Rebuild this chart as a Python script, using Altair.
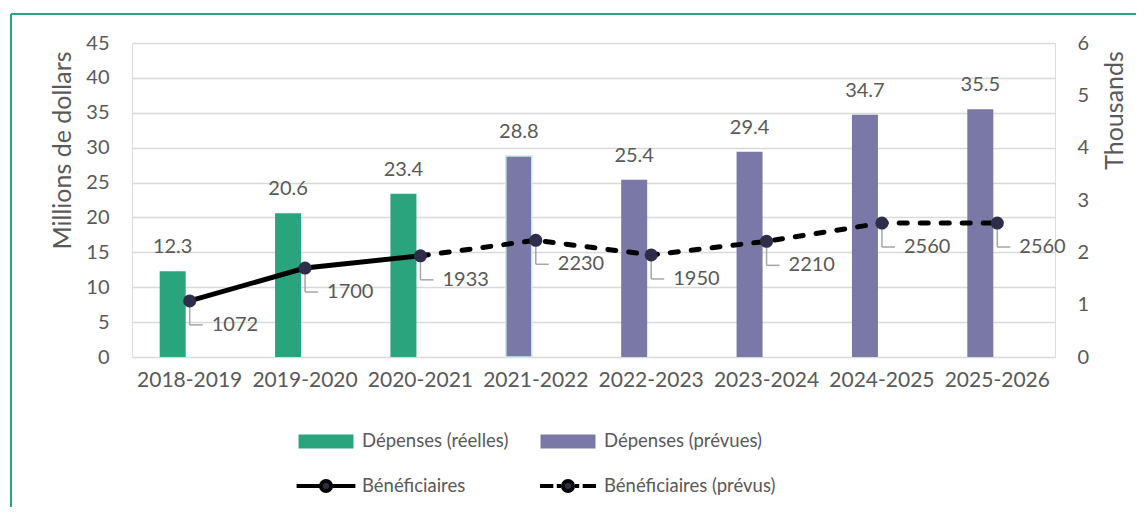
import altair as alt
import pandas as pd

# ---- data ----
categories = ["2018-2019", "2019-2020", "2020-2021", "2021-2022",
              "2022-2023", "2023-2024", "2024-2025", "2025-2026"]
depenses = [12.3, 20.6, 23.4, 28.8, 25.4, 29.4, 34.7, 35.5]          # millions $
beneficiaires = [1072, 1700, 1933, 2230, 1950, 2210, 2560, 2560]      # persons
n_reelles = 3
legend_labels = ["Dépenses (réelles)", "Dépenses (prévues)",
                 "Bénéficiaires", "Bénéficiaires (prévus)"]
left_ticks = [0, 5, 10, 15, 20, 25, 30, 35, 40, 45]
right_ticks = [0, 1, 2, 3, 4, 5, 6]

# ---- styles ----
FONT = "Lato"
TXT = "#595959"
GREEN = "#2aa47c"
PURPLE = "#7a78a6"
NAVY = "#2f2e4a"
GRID = "#d9d9d9"
W, H = 923, 314

df = pd.DataFrame({"cat": categories, "dep": depenses, "ben": beneficiaires})
df["benk"] = df["ben"] / 1000.0
df["idx"] = list(range(len(categories)))

x_enc = alt.X("cat:N", sort=categories, title=None,
              scale=alt.Scale(paddingInner=0, paddingOuter=0),
              axis=alt.Axis(labelAngle=0, ticks=False, domain=False, grid=False,
                            labelFont=FONT, labelFontSize=21, labelColor=TXT,
                            labelPadding=12))

y_left = alt.Y("dep:Q", scale=alt.Scale(domain=[0, 45], nice=False),
               axis=alt.Axis(values=left_ticks, title="Millions de dollars",
                             grid=True, gridColor=GRID, gridWidth=1.5,
                             labelOverlap=False, tickCount=10,
                             domain=False, ticks=False, labelPadding=23,
                             labelFont=FONT, labelFontSize=20, labelColor=TXT,
                             titleFont=FONT, titleFontSize=25, titleColor=TXT,
                             titleFontWeight="normal", titleAngle=-90,
                             titleBaseline="alphabetic", titleAlign="center",
                             titleX=-62, titleY=107))

base = alt.Chart(df)

bars = base.mark_bar(size=26, xOffset=-17, strokeWidth=1.5).encode(
    x=x_enc, y=y_left,
    fill=alt.condition(alt.datum.idx < n_reelles, alt.value(GREEN), alt.value(PURPLE)),
    stroke=alt.condition(alt.datum.idx == n_reelles, alt.value("#c4efe4"), alt.value("transparent")),
)

bar_labels = base.mark_text(xOffset=-17, dy=-18, baseline="alphabetic", font=FONT,
                            fontSize=20, color=TXT).encode(
    x=alt.X("cat:N", sort=categories), y=alt.Y("dep:Q"),
    text=alt.Text("dep:Q", format=".1f"))

# legend driver (invisible points)
R = 14
paths = [
    "M-1.82,-0.36L1.82,-0.36L1.82,0.36L-1.82,0.36Z",
    "M-1.82,-0.36L1.82,-0.36L1.82,0.36L-1.82,0.36Z",
    "M-2.1,0L-0.36,0M0.36,0L2.1,0M-0.36,0A0.36,0.36,0,1,1,0.36,0A0.36,0.36,0,1,1,-0.36,0Z",
    "M-2.0,0L-1.05,0M-0.8,0L-0.5,0M0.5,0L0.8,0M1.05,0L2.0,0M-0.36,0A0.36,0.36,0,1,1,0.36,0A0.36,0.36,0,1,1,-0.36,0Z",
]
leg = alt.Legend(title=None, orient="none", legendX=178, legendY=382, columns=2,
                 direction="horizontal",
                 columnPadding=23, rowPadding=15, symbolSize=R * R * 4,
                 symbolStrokeWidth=4, symbolOpacity=1, labelOffset=20,
                 labelFont=FONT, labelFontSize=18.5, labelColor=TXT, labelLimit=400)
leg_df = pd.DataFrame({"series": legend_labels, "cat": [categories[0]] * 4, "dep": [0] * 4})
legend_pts = alt.Chart(leg_df).mark_point(filled=True, opacity=0).encode(
    x=alt.X("cat:N", sort=categories), y=alt.Y("dep:Q"),
    shape=alt.Shape("series:N", scale=alt.Scale(domain=legend_labels, range=paths), legend=leg),
    fill=alt.Fill("series:N", scale=alt.Scale(domain=legend_labels,
                                              range=[GREEN, PURPLE, NAVY, NAVY]), legend=leg),
    stroke=alt.Stroke("series:N", scale=alt.Scale(domain=legend_labels,
                                                  range=[GREEN, PURPLE, "#000000", "#000000"]), legend=leg),
)

frame_df = pd.DataFrame({"a": [0]})
frame_left = alt.Chart(frame_df).mark_rule(color=GREEN, strokeWidth=2).encode(
    x=alt.value(-121), y=alt.value(-29), y2=alt.value(464))
frame_top = alt.Chart(frame_df).mark_rule(color=GREEN, strokeWidth=2).encode(
    x=alt.value(-121), x2=alt.value(1004), y=alt.value(-29))

left_layer = alt.layer(bars, bar_labels, legend_pts, frame_left, frame_top)

# ---- beneficiaries (right axis, thousands) ----
y_right = alt.Y("benk:Q", scale=alt.Scale(domain=[0, 6], nice=False),
                axis=alt.Axis(orient="right", values=right_ticks, title="Thousands",
                              grid=False, domain=False, ticks=False, labelPadding=22,
                              labelOverlap=False,
                              labelFont=FONT, labelFontSize=20, labelColor=TXT,
                              titleFont=FONT, titleFontSize=25, titleColor=TXT,
                              titleFontWeight="normal", titleAngle=-90,
                              titleBaseline="alphabetic", titleAlign="center",
                              titleX=67, titleY=67))

x_plain = alt.X("cat:N", sort=categories, bandPosition=0.5)
DY = 24

line_real = base.transform_filter(alt.datum.idx < n_reelles).mark_line(
    color="black", strokeWidth=5, strokeCap="round").encode(x=x_enc, y=y_right)
line_prev = base.transform_filter(alt.datum.idx >= n_reelles - 1).mark_line(
    color="black", strokeWidth=5, strokeCap="round", strokeDash=[8, 13]).encode(
    x=alt.X("cat:N", sort=categories), y=alt.Y("benk:Q"))

lead_v = base.mark_rule(color="#a6a6a6", strokeWidth=1.5, y2Offset=DY).encode(
    x=x_plain, y=alt.Y("benk:Q"), y2=alt.Y2("benk"))
lead_h = base.mark_rule(color="#a6a6a6", strokeWidth=1.5, x2Offset=13, yOffset=DY).encode(
    x=x_plain, x2=alt.X2("cat"), y=alt.Y("benk:Q"))

pts = base.mark_circle(size=170, color=NAVY, opacity=1).encode(
    x=alt.X("cat:N", sort=categories), y=alt.Y("benk:Q"))

pt_labels = base.mark_text(dx=22, dy=DY, align="left", baseline="middle", font=FONT,
                           fontSize=20, color=TXT).encode(
    x=alt.X("cat:N", sort=categories), y=alt.Y("benk:Q"), text=alt.Text("ben:Q"))

right_layer = alt.layer(line_real, line_prev, lead_v, lead_h, pts, pt_labels)

chart = alt.layer(left_layer, right_layer).resolve_scale(y="independent").properties(
    width=W, height=H,
    padding={"left": 2, "top": 5, "right": 0, "bottom": 0},
    background="white",
).configure_view(stroke=None).configure(font=FONT)

chart.save("out.html", embed_options={"renderer": "svg", "actions": False})
